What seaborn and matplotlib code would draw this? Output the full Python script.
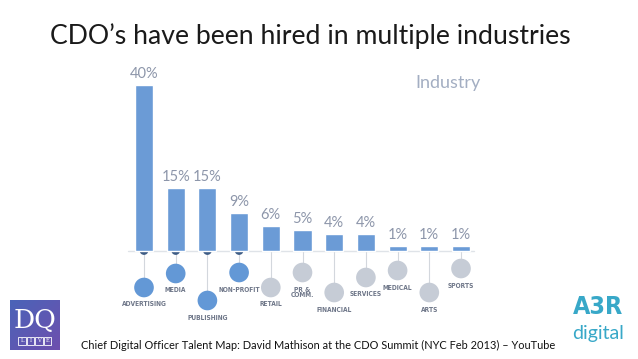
import numpy as np
import matplotlib
matplotlib.use("Agg")
import matplotlib.pyplot as plt
import seaborn as sns
import pandas as pd

# chart data
industries = ["ADVERTISING", "MEDIA", "PUBLISHING", "NON-PROFIT", "RETAIL", "PR &\nCOMM.",
              "FINANCIAL", "SERVICES", "MEDICAL", "ARTS", "SPORTS"]
shares = [40, 15, 15, 9, 6, 5, 4, 4, 1, 1, 1]
share_labels = ["40%", "15%", "15%", "9%", "6%", "5%", "4%", "4%", "1%", "1%", "1%"]
highlighted = [True, True, True, True, False, False, False, False, False, False, False]

title = "CDO\u2019s have been hired in multiple industries"
source = "Chief Digital Officer Talent Map: David Mathison at the CDO Summit (NYC Feb 2013) \u2013 YouTube"

# layout (pixels of a 638x359 picture)
W, H = 638, 359
X0, PX_CAT = 144, 31.7      # first bar centre, spacing
BASE, PX_PCT = 250.5, 4.15  # baseline y (from top), px per percent
circle_drop = [37, 23, 50, 22, 37, 22, 42, 27, 20, 42, 18]

sns.set_theme(style="white")
plt.rcParams['font.family'] = ['Lato', 'DejaVu Sans']

fig = plt.figure(figsize=(W / 100, H / 100), dpi=100)
ax = fig.add_axes([0, 0, 1, 1])

df = pd.DataFrame({"industry": industries, "share": shares})
sns.barplot(data=df, x="industry", y="share", color="#6b9bd6", width=0.57,
            saturation=1, ax=ax, zorder=3)

def py(p):  # pixel-from-top -> data y
    return (BASE - p) / PX_PCT

ax.set_xlim((0 - X0) / PX_CAT, (W - X0) / PX_CAT)
ax.set_ylim(py(H), py(0))
ax.axis("off")

blue, grey = "#6398d6", "#c6ccd6"

# baseline
ax.plot([(128 - X0) / PX_CAT, (474 - X0) / PX_CAT], [0, 0], color="#dfe3e8", lw=1, zorder=1)

# connectors, dots and labels
for i, name in enumerate(industries):
    cy = py(BASE + circle_drop[i])
    ax.plot([i, i], [0, cy], color="#d3d7dd", lw=0.8, zorder=1)
    ax.scatter([i], [cy], s=200, color=blue if highlighted[i] else grey,
               edgecolor="none", zorder=2)
    if highlighted[i]:
        ax.scatter([i], [0], s=40, color="#3d5c85", edgecolor="none", zorder=2)
    off = 20 if "\n" in name else 17
    ax.text(i, py(BASE + circle_drop[i] + off), name, ha="center", va="center",
            fontsize=4.8, color="#6f7789", fontweight="bold",
            family=["DejaVu Sans"], fontstretch="condensed", linespacing=0.95)

# value labels
for i, lab in enumerate(share_labels):
    ax.text(i, shares[i] + 4 / PX_PCT, lab, ha="center", va="bottom",
            fontsize=10.5, color="#8d96aa")

ax.text((448 - X0) / PX_CAT, py(83), "Industry", ha="center", va="center",
        fontsize=13, color="#a3aec2")

# title and source
fig.text(50 / W, 1 - 36 / H, title, ha="left", va="center", fontsize=19.2,
         color="#1a1a1a")
fig.text(81 / W, 1 - 345 / H, source, ha="left", va="center", fontsize=7.9,
         color="#111111")

# DQ LIVE logo
lax = fig.add_axes([10 / W, 1 - 350 / H, 50 / W, 50 / H])
grad = np.linspace(0, 1, 64)
g = np.add.outer(grad, grad) / 2
cmap = matplotlib.colors.LinearSegmentedColormap.from_list("dq", ["#4a64b8", "#6e4fae"])
lax.imshow(g, cmap=cmap, extent=[0, 1, 0, 1], aspect="auto")
lax.set_xlim(0, 1)
lax.set_ylim(0, 1)
lax.axis("off")
lax.text(0.5, 0.6, "DQ", ha="center", va="center", color="white", fontsize=19,
         family=["DejaVu Serif"])
for k, ch in enumerate("LIVE"):
    cx = 0.24 + k * 0.17
    lax.add_patch(plt.Rectangle((cx - 0.075, 0.1), 0.15, 0.17, fill=False,
                                edgecolor="white", lw=0.6))
    lax.text(cx, 0.185, ch, ha="center", va="center", color="white", fontsize=3.8,
             family=["DejaVu Serif"])

# A3R digital logo
fig.text(598 / W, 1 - 307 / H, "A3R", ha="center", va="center", fontsize=18,
         color="#38a8c8", fontweight="heavy", family=["DejaVu Sans"],
         fontstretch="condensed")
fig.text(598 / W, 1 - 333 / H, "digital", ha="center", va="center", fontsize=14,
         color="#38a8c8")

fig.savefig("out.png", dpi=100)
